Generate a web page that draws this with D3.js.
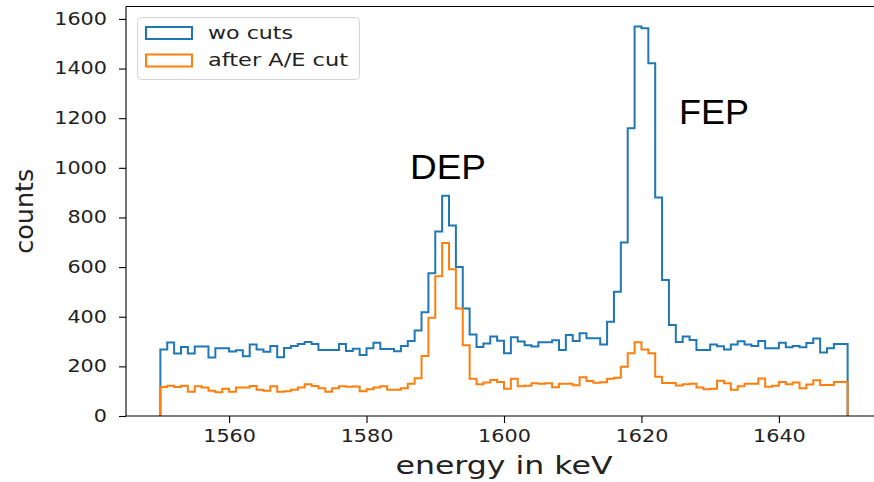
<!DOCTYPE html>
<html>
<head>
<meta charset="utf-8">
<script src="https://cdn.jsdelivr.net/npm/d3@7"></script>
<style>
  body { margin: 0; background: #fff; }
  svg { display: block; }
</style>
</head>
<body>
<svg id="chart" width="874" height="482"></svg>
<script>
// Histogram bins: 1 keV wide, from 1550 to 1650 keV
const binStart = 1550;
const binEnd = 1650;
const binEdges = d3.range(binStart, binEnd + 1, 1);

// Counts per bin, no cuts applied
const woCuts = [
  268, 296, 252, 278, 252, 280, 280, 236, 273, 273,
  260, 265, 241, 288, 268, 259, 282, 237, 274, 282,
  290, 298, 290, 266, 266, 266, 290, 262, 271, 246,
  273, 295, 270, 270, 261, 282, 302, 345, 418, 575,
  743, 887, 768, 600, 433, 328, 278, 292, 320, 303,
  253, 317, 300, 285, 280, 297, 297, 305, 266, 326,
  302, 333, 313, 313, 288, 380, 501, 699, 1159, 1569,
  1562, 1421, 880, 548, 367, 298, 320, 306, 266, 266,
  288, 281, 268, 288, 301, 288, 282, 302, 273, 273,
  295, 277, 282, 277, 294, 312, 256, 273, 290, 290
];

// Counts per bin after the A/E cut
const afterAE = [
  117, 122, 117, 122, 98, 120, 115, 102, 96, 110,
  98, 115, 115, 121, 106, 102, 120, 98, 100, 106,
  115, 128, 121, 112, 98, 112, 120, 118, 119, 100,
  108, 115, 120, 106, 106, 112, 130, 152, 242, 396,
  563, 697, 591, 433, 285, 150, 128, 135, 145, 137,
  110, 150, 120, 122, 132, 130, 132, 116, 130, 130,
  124, 156, 141, 134, 136, 150, 154, 198, 253, 297,
  268, 253, 158, 133, 133, 123, 128, 130, 115, 108,
  110, 142, 132, 106, 120, 130, 130, 151, 118, 122,
  137, 128, 135, 112, 127, 144, 125, 125, 137, 137
];

const seriesNames = ["wo cuts", "after A/E cut"];
const xTicks = [1560, 1580, 1600, 1620, 1640];
const yTicks = [0, 200, 400, 600, 800, 1000, 1200, 1400, 1600];
const peakLabels = ["DEP", "FEP"];

const colors = ["#1f77b4", "#ff7f0e"];
const svg = d3.select("#chart");

const plot = { left: 126, right: 882, top: 6.5, bottom: 416 };

const x = d3.scaleLinear().domain([1545, 1655]).range([plot.left, plot.right]);
const y = d3.scaleLinear().domain([0, 1650]).range([plot.bottom, plot.top]);

// Stretch a text element to a target width
function fitWidth(sel, w) {
  sel.attr("textLength", w).attr("lengthAdjust", "spacingAndGlyphs");
}

// Step outline of a histogram, open at the bottom
function stepPoints(values) {
  const pts = [[binEdges[0], 0]];
  values.forEach((v, i) => pts.push([binEdges[i], v]));
  pts.push([binEdges[binEdges.length - 1], values[values.length - 1]]);
  pts.push([binEdges[binEdges.length - 1], 0]);
  return pts;
}

const line = d3.line()
  .x(d => x(d[0]))
  .y(d => y(d[1]))
  .curve(d3.curveStepAfter);

[woCuts, afterAE].forEach((vals, i) => {
  svg.append("path")
    .attr("d", line(stepPoints(vals)))
    .attr("fill", "none")
    .attr("stroke", colors[i])
    .attr("stroke-width", 2)
    .attr("stroke-linejoin", "miter");
});

// Axes
const tickFont = "DejaVu Sans";
const xAxis = svg.append("g")
  .attr("transform", `translate(0,${plot.bottom})`)
  .call(d3.axisBottom(x).tickValues(xTicks).tickSize(7).tickPadding(7).tickFormat(d3.format("d")));
const yAxis = svg.append("g")
  .attr("transform", `translate(${plot.left},0)`)
  .call(d3.axisLeft(y).tickValues(yTicks).tickSize(7).tickPadding(12).tickFormat(d3.format("d")));

[xAxis, yAxis].forEach(g => {
  g.select(".domain").remove();
  g.selectAll(".tick line").attr("stroke", "#000").attr("stroke-width", 1.1);
  g.selectAll(".tick text")
    .attr("font-family", tickFont)
    .attr("font-size", 17)
    .attr("fill", "#222")
    .each(function () {
      const t = d3.select(this);
      fitWidth(t, t.text().length * 13.2);
    });
});

// Frame (left, bottom, top; the right edge lies outside the canvas)
const frame = svg.append("g").attr("stroke", "#000").attr("stroke-width", 1.1).attr("fill", "none");
frame.append("line").attr("x1", plot.left).attr("x2", plot.left).attr("y1", plot.top).attr("y2", plot.bottom);
frame.append("line").attr("x1", plot.left).attr("x2", plot.right).attr("y1", plot.bottom).attr("y2", plot.bottom);
frame.append("line").attr("x1", plot.left).attr("x2", plot.right).attr("y1", plot.top).attr("y2", plot.top);
frame.append("line").attr("x1", plot.right).attr("x2", plot.right).attr("y1", plot.top).attr("y2", plot.bottom);

// Axis titles
svg.append("text")
  .attr("x", x(1600)).attr("y", 474)
  .attr("text-anchor", "middle")
  .attr("font-family", tickFont).attr("font-size", 25).attr("fill", "#222")
  .text("energy in keV")
  .call(fitWidth, 217);

svg.append("text")
  .attr("transform", `translate(33,${(plot.top + plot.bottom) / 2}) rotate(-90)`)
  .attr("text-anchor", "middle")
  .attr("font-family", tickFont).attr("font-size", 25).attr("fill", "#222")
  .text("counts")
  .call(fitWidth, 85);

// Peak annotations
const peakPos = [
  { x: 410, y: 179, w: 76 },
  { x: 679, y: 124, w: 70 }
];
peakLabels.forEach((lbl, i) => {
  svg.append("text")
    .attr("x", peakPos[i].x).attr("y", peakPos[i].y)
    .attr("font-family", "Liberation Sans, Arial, sans-serif")
    .attr("font-size", 35).attr("fill", "#000")
    .text(lbl)
    .call(fitWidth, peakPos[i].w);
});

// Legend
const legend = svg.append("g");
legend.append("rect")
  .attr("x", 137.5).attr("y", 17.5).attr("width", 222).attr("height", 62)
  .attr("rx", 4).attr("fill", "#fff").attr("fill-opacity", 0.8)
  .attr("stroke", "#d3d3d3").attr("stroke-width", 1);
const legendWidths = [85, 140];
seriesNames.forEach((name, i) => {
  const yy = 27 + i * 27.5;
  legend.append("rect")
    .attr("x", 146).attr("y", yy).attr("width", 46).attr("height", 12)
    .attr("fill", "none").attr("stroke", colors[i]).attr("stroke-width", 2);
  legend.append("text")
    .attr("x", 208).attr("y", yy + 11.5)
    .attr("font-family", tickFont).attr("font-size", 17).attr("fill", "#222")
    .text(name)
    .call(fitWidth, legendWidths[i]);
});
</script>
</body>
</html>
